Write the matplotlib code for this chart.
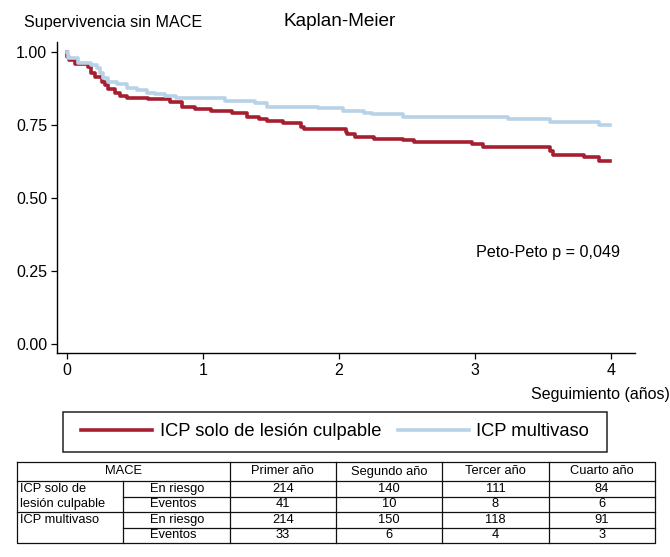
import numpy as np
import matplotlib
matplotlib.use("Agg")
import matplotlib.pyplot as plt
from matplotlib.lines import Line2D
from matplotlib.patches import Rectangle

plt.rcParams["font.family"] = ["Liberation Sans", "DejaVu Sans"]

# Kaplan-Meier curves (years, survival free of MACE)
t_culprit = [0.0, 0.003, 0.012, 0.06, 0.157, 0.18, 0.206, 0.255, 0.279, 0.304,
             0.353, 0.39, 0.439, 0.598, 0.757, 0.843, 0.941, 1.06, 1.21, 1.32,
             1.41, 1.47, 1.59, 1.72, 1.74, 2.05, 2.06, 2.12, 2.26, 2.47,
             2.55, 2.98, 3.06, 3.55, 3.57, 3.80, 3.91, 3.99]
s_culprit = [1.0, 0.983, 0.970, 0.958, 0.949, 0.926, 0.912, 0.897, 0.886, 0.871,
             0.860, 0.848, 0.841, 0.837, 0.826, 0.812, 0.803, 0.797, 0.789, 0.776,
             0.769, 0.763, 0.755, 0.743, 0.736, 0.726, 0.718, 0.709, 0.701, 0.697,
             0.690, 0.683, 0.675, 0.661, 0.646, 0.638, 0.626, 0.626]

t_multi = [0.0, 0.01, 0.083, 0.18, 0.218, 0.243, 0.267, 0.304, 0.365, 0.439,
           0.512, 0.586, 0.647, 0.72, 0.80, 1.16, 1.38, 1.468, 1.848, 2.03,
           2.18, 2.24, 2.47, 3.24, 3.55, 3.91, 3.99]
s_multi = [1.0, 0.977, 0.962, 0.955, 0.943, 0.926, 0.909, 0.897, 0.888, 0.877,
           0.869, 0.860, 0.854, 0.848, 0.841, 0.831, 0.823, 0.812, 0.806, 0.798,
           0.789, 0.785, 0.776, 0.768, 0.759, 0.749, 0.749]

x_ticks = [0, 1, 2, 3, 4]
y_ticks = [0.0, 0.25, 0.5, 0.75, 1.0]

# risk table
years = ["Primer año", "Segundo año", "Tercer año", "Cuarto año"]
culprit_risk = [214, 140, 111, 84]
culprit_events = [41, 10, 8, 6]
multi_risk = [214, 150, 118, 91]
multi_events = [33, 6, 4, 3]

RED = "#a61f30"
BLUE = "#b8d3e7"
W, H = 670, 557

fig = plt.figure(figsize=(6.7, 5.57), dpi=100)
ax = fig.add_axes([57 / W, 1 - 353 / H, (635 - 57) / W, (353 - 41.7) / H])

ax.step(t_culprit, s_culprit, where="post", color=RED, lw=2.6)
ax.step(t_multi, s_multi, where="post", color=BLUE, lw=2.6)

ax.set_xlim(-0.0735, 4.176)
ax.set_ylim(-0.031, 1.034)
ax.set_xticks(x_ticks)
ax.set_yticks(y_ticks)
ax.set_yticklabels([f"{v:.2f}" for v in y_ticks])
ax.tick_params(direction="out", length=4, width=0.9, labelsize=11.5, pad=3)
for side in ("top", "right"):
    ax.spines[side].set_visible(False)
for side in ("left", "bottom"):
    ax.spines[side].set_linewidth(1.0)

ax.text(3.01, 0.313, "Peto-Peto p = 0,049", fontsize=11.6, ha="left", va="center")

fig.text(24 / W, 1 - 22 / H, "Supervivencia sin MACE", fontsize=11.6,
         ha="left", va="center")
fig.text(340 / W, 1 - 22 / H, "Kaplan-Meier", fontsize=13.7,
         ha="center", va="center")
fig.text(1.0, 1 - 395 / H, "Seguimiento (años)", fontsize=11.5,
         ha="right", va="center")

# legend without its own frame; box drawn to match the reference extent
handles = [Line2D([], [], color=RED, lw=2.6), Line2D([], [], color=BLUE, lw=2.6)]
fig.legend(handles, ["ICP solo de lesión culpable", "ICP multivaso"],
           loc="center", bbox_to_anchor=(335 / W, 1 - 432 / H), ncol=2,
           fontsize=13.2, frameon=False, handlelength=3.9, handletextpad=0.4,
           columnspacing=0.9, borderpad=0.55)
fig.patches.append(Rectangle((63 / W, 1 - 452 / H), (607 - 63) / W, 40 / H,
                             transform=fig.transFigure, fill=False,
                             edgecolor="#222222", lw=1.1))

# table drawn in pixel-like coordinates
tax = fig.add_axes([17 / W, 1 - 543 / H, (655 - 17) / W, (543 - 462) / H])
tax.set_xlim(17, 655)
tax.set_ylim(543, 462)
tax.axis("off")
xs = np.linspace(17, 655, 7)
ys = [462, 481, 496.5, 512, 527.5, 543]
lk = dict(color="#111111", lw=0.9, clip_on=False, solid_capstyle="projecting")

tax.plot([xs[0], xs[-1], xs[-1], xs[0], xs[0]], [ys[0], ys[0], ys[-1], ys[-1], ys[0]], **lk)
tax.plot([xs[0], xs[-1]], [ys[1], ys[1]], **lk)
tax.plot([xs[0], xs[-1]], [ys[3], ys[3]], **lk)
tax.plot([xs[1], xs[-1]], [ys[2], ys[2]], **lk)
tax.plot([xs[1], xs[-1]], [ys[4], ys[4]], **lk)
tax.plot([xs[1], xs[1]], [ys[1], ys[-1]], **lk)
for x in xs[2:-1]:
    tax.plot([x, x], [ys[0], ys[-1]], **lk)

fs = 9.3
mid = lambda i: (ys[i] + ys[i + 1]) / 2
tax.text((xs[0] + xs[2]) / 2, mid(0), "MACE", fontsize=fs, ha="center", va="center")
for j, lab in enumerate(years):
    tax.text((xs[j + 2] + xs[j + 3]) / 2, mid(0), lab, fontsize=fs, ha="center", va="center")

tax.text(xs[0] + 3, mid(1), "ICP solo de", fontsize=fs, ha="left", va="center")
tax.text(xs[0] + 3, mid(2), "lesión culpable", fontsize=fs, ha="left", va="center")
tax.text(xs[0] + 3, mid(3), "ICP multivaso", fontsize=fs, ha="left", va="center")

rows = [("En riesgo", culprit_risk), ("Eventos", culprit_events),
        ("En riesgo", multi_risk), ("Eventos", multi_events)]
for i, (lab, vals) in enumerate(rows):
    tax.text(xs[1] + 27, mid(i + 1), lab, fontsize=fs, ha="left", va="center")
    for j, v in enumerate(vals):
        tax.text((xs[j + 2] + xs[j + 3]) / 2, mid(i + 1), str(v), fontsize=fs,
                 ha="center", va="center")

fig.savefig("out.png", dpi=100)
